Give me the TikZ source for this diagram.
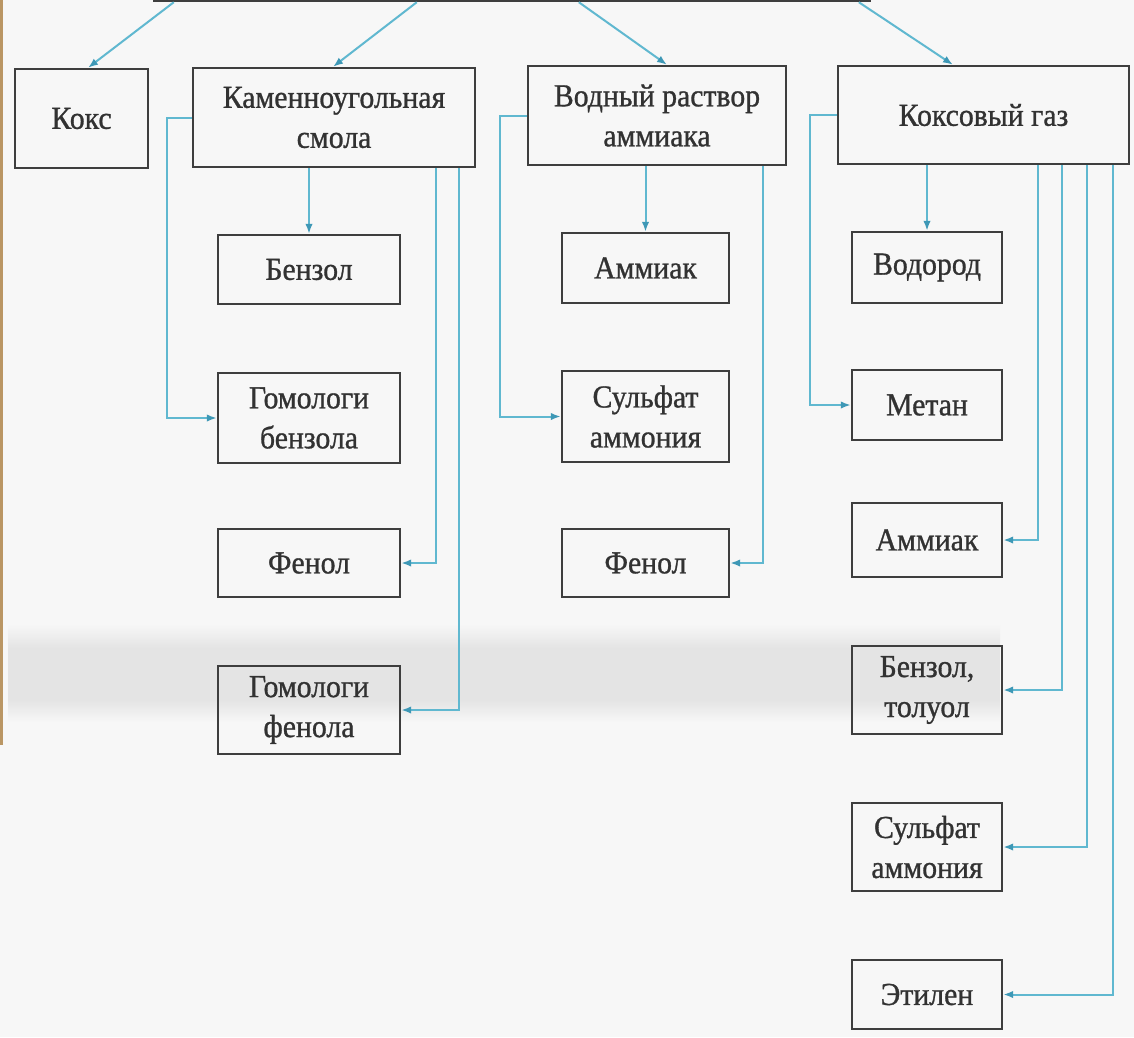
\documentclass[tikz,border=0pt]{standalone}
\usepackage{fontspec}
\setmainfont{Liberation Serif}
\newfontfamily\boxfont{Liberation Serif}[FakeBold=0.9,FakeStretch=0.93]
\usetikzlibrary{arrows.meta}
\definecolor{lnblue}{RGB}{96,184,208}
\definecolor{hdblue}{RGB}{62,152,182}
\definecolor{boxgray}{RGB}{62,62,62}
\definecolor{txtgray}{RGB}{50,50,50}
\definecolor{bgpaper}{RGB}{247,247,247}
\definecolor{bandgray}{RGB}{228,228,228}
\definecolor{tanstrip}{RGB}{186,150,100}
\begin{document}
\begin{tikzpicture}[x=1pt,y=-1pt,
  box/.style={draw=boxgray, line width=2.4pt, rectangle, inner sep=0pt,
    align=center, text=txtgray, font=\boxfont\fontsize{32}{40}\selectfont},
  conn/.style={draw=lnblue, line width=2pt,
    -{Latex[length=10pt,width=7.5pt,color=hdblue]}}]
\useasboundingbox (0,0) rectangle (1134,1037);
\clip (0,0) rectangle (1134,1037);
\fill[bgpaper] (0,0) rectangle (1134,1037);
\shade[top color=bgpaper, bottom color=bandgray] (8,624) rectangle (1000,648);
\fill[bandgray] (8,648) rectangle (1000,700);
\shade[top color=bandgray, bottom color=bgpaper] (8,700) rectangle (1000,722);
\fill[tanstrip] (0,0) rectangle (2.5,745);

% top (cut-off) box
\node[box, minimum width=716pt, minimum height=60pt] (top) at (512,-29) {};

% first row
\node[box, minimum width=133pt, minimum height=99pt] (koks) at (81.5,118.5) {Кокс};
\node[box, minimum width=282pt, minimum height=99pt] (smola) at (334,117.5) {Каменноугольная\\смола};
\node[box, minimum width=258pt, minimum height=99pt] (vodny) at (657,115.5) {Водный раствор\\аммиака};
\node[box, minimum width=291pt, minimum height=98pt] (gas) at (983.5,115) {Коксовый газ};

% left column
\node[box, minimum width=182pt, minimum height=69pt] (benzol) at (309,269.5) {Бензол};
\node[box, minimum width=182pt, minimum height=90pt] (gombenz) at (309,418) {Гомологи\\бензола};
\node[box, minimum width=182pt, minimum height=68pt] (fenolA) at (309,563) {Фенол};
\node[box, minimum width=182pt, minimum height=88pt] (gomfen) at (309,710) {Гомологи\\фенола};

% middle column
\node[box, minimum width=167pt, minimum height=70pt] (ammiakA) at (645.5,268) {Аммиак};
\node[box, minimum width=167pt, minimum height=91pt] (sulfA) at (645.5,416.5) {Сульфат\\аммония};
\node[box, minimum width=167pt, minimum height=68pt] (fenolB) at (645.5,563) {Фенол};

% right column
\node[box, minimum width=150pt, minimum height=71pt] (vodorod) at (927,267.5) {Водород};
\node[box, minimum width=150pt, minimum height=70pt] (metan) at (927,405) {Метан};
\node[box, minimum width=150pt, minimum height=74pt] (ammiakB) at (927,540) {Аммиак};
\node[box, minimum width=150pt, minimum height=88pt] (benztol) at (927,690) {Бензол,\\толуол};
\node[box, minimum width=150pt, minimum height=88pt] (sulfB) at (927,847) {Сульфат\\аммония};
\node[box, minimum width=150pt, minimum height=69pt] (etilen) at (927,994.5) {Этилен};

% from the top box
\draw[conn] ([xshift=21pt]top.south west) -- ([xshift=6.5pt]koks.north);
\draw[conn] ([xshift=264pt]top.south west) -- ([xshift=-1pt]smola.north);
\draw[conn] ([xshift=426pt]top.south west) -- ([xshift=10pt]vodny.north);
\draw[conn] ([xshift=706pt]top.south west) -- ([xshift=-30.5pt]gas.north);

% coal tar
\draw[conn] (smola.west) -- ++(-25,0) |- (gombenz.west);
\draw[conn] (benzol.north |- smola.south) -- (benzol.north);
\draw[conn] ([xshift=-40pt]smola.south east) |- (fenolA.east);
\draw[conn] ([xshift=-17pt]smola.south east) |- (gomfen.east);

% ammonia water
\draw[conn] (vodny.west) -- ++(-27,0) |- (sulfA.west);
\draw[conn] (ammiakA.north |- vodny.south) -- (ammiakA.north);
\draw[conn] ([xshift=-24pt]vodny.south east) |- (fenolB.east);

% coke gas
\draw[conn] (gas.west) -- ++(-27,0) |- (metan.west);
\draw[conn] (vodorod.north |- gas.south) -- (vodorod.north);
\draw[conn] ([xshift=-92pt]gas.south east) |- (ammiakB.east);
\draw[conn] ([xshift=-68pt]gas.south east) |- (benztol.east);
\draw[conn] ([xshift=-43pt]gas.south east) |- (sulfB.east);
\draw[conn] ([xshift=-17pt]gas.south east) |- (etilen.east);
\end{tikzpicture}
\end{document}
